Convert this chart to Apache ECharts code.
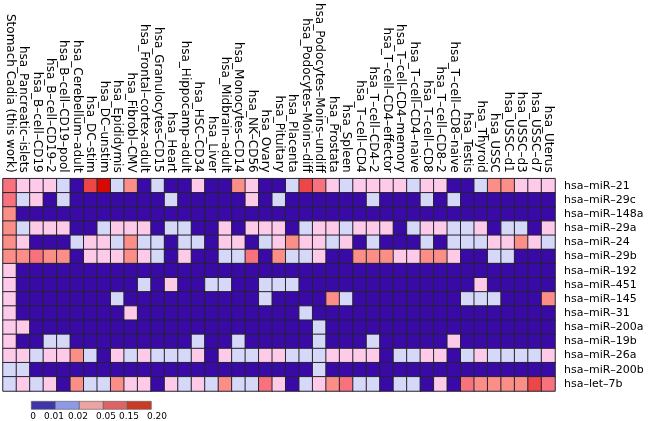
<!DOCTYPE html>
<html>
<head>
<meta charset="utf-8">
<script src="https://cdn.jsdelivr.net/npm/echarts@6/dist/echarts.min.js"></script>
<style>html,body{margin:0;padding:0;background:#fff}#c{width:661px;height:421px}</style>
</head>
<body>
<div id="c"></div>
<script>
const tissues = ['Stomach Cadia (this work)','hsa_Pancreatic\u2013islets','hsa_B\u2013cell\u2013CD19','hsa_B\u2013cell\u2013CD19\u20132','hsa_B\u2013cell\u2013CD19\u2013pool','hsa_Cerebellum\u2013adult','hsa_DC\u2013stim','hsa_DC\u2013unstim','hsa_Epididymis','hsa_Fibrobl\u2013CMV','hsa_Frontal\u2013cortex\u2013adult','hsa_Granulocytes\u2013CD15','hsa_Heart','hsa_Hippocamp\u2013adult','hsa_HSC\u2013CD34','hsa_Liver','hsa_Midbrain\u2013adult','hsa_Monocytes\u2013CD14','hsa_NK\u2013CD56','hsa_Ovary','hsa_Pituitary','hsa_Placenta','hsa_Podocytes\u2013Moins\u2013diff','hsa_Podocytes\u2013Moins\u2013undiff','hsa_Prostata','hsa_Spleen','hsa_T\u2013cell\u2013CD4','hsa_T\u2013cell\u2013CD4\u20132','hsa_T\u2013cell\u2013CD4\u2013effector','hsa_T\u2013cell\u2013CD4\u2013memory','hsa_T\u2013cell\u2013CD4\u2013naive','hsa_T\u2013cell\u2013CD8','hsa_T\u2013cell\u2013CD8\u20132','hsa_T\u2013cell\u2013CD8\u2013naive','hsa_Testis','hsa_Thyroid','hsa_USSC','hsa_USSC\u2013d1','hsa_USSC\u2013d3','hsa_USSC\u2013d7','hsa_Uterus'];
const mirnas = ['hsa\u2013miR\u201321','hsa\u2013miR\u201329c','hsa\u2013miR\u2013148a','hsa\u2013miR\u201329a','hsa\u2013miR\u201324','hsa\u2013miR\u201329b','hsa\u2013miR\u2013192','hsa\u2013miR\u2013451','hsa\u2013miR\u2013145','hsa\u2013miR\u201331','hsa\u2013miR\u2013200a','hsa\u2013miR\u201319b','hsa\u2013miR\u201326a','hsa\u2013miR\u2013200b','hsa\u2013let\u20137b'];

const miR21  = [0.1,0.03,0.03,0.03,0.015,0.005,0.15,0.2,0.015,0.07, 0.005,0.015,0.005,0.005,0.03,0.005,0.005,0.07,0.03,0.005, 0.005,0.015,0.15,0.12,0.03,0.015,0.03,0.03,0.03,0.03, 0.015,0.03,0.03,0.005,0.005,0.015,0.07,0.08,0.03,0.03,0.03];
const miR29c = [0.1,0.015,0.03,0.005,0.015,0.005,0.005,0.005,0.005,0.005, 0.005,0.005,0.015,0.005,0.005,0.005,0.005,0.005,0.03,0.005, 0.015,0.005,0.005,0.005,0.005,0.005,0.005,0.015,0.005,0.005, 0.005,0.015,0.005,0.015,0.005,0.005,0.005,0.005,0.005,0.005,0.005];
const miR148a= [0.07,0.005,0.005,0.005,0.005,0.005,0.005,0.005,0.005,0.005, 0.005,0.005,0.005,0.005,0.005,0.005,0.005,0.005,0.005,0.005, 0.005,0.005,0.005,0.005,0.005,0.005,0.005,0.005,0.005,0.005, 0.005,0.005,0.005,0.005,0.005,0.005,0.005,0.005,0.005,0.005,0.005];
const miR29a = [0.07,0.015,0.03,0.03,0.03,0.005,0.005,0.015,0.03,0.03, 0.03,0.005,0.015,0.015,0.005,0.005,0.03,0.005,0.03,0.03, 0.03,0.005,0.015,0.03,0.03,0.015,0.03,0.03,0.03,0.005, 0.015,0.03,0.03,0.015,0.015,0.03,0.005,0.015,0.015,0.005,0.03];
const miR24  = [0.07,0.03,0.005,0.005,0.005,0.015,0.03,0.03,0.015,0.07, 0.015,0.015,0.005,0.015,0.015,0.005,0.03,0.03,0.005,0.015, 0.03,0.07,0.03,0.03,0.015,0.03,0.005,0.015,0.005,0.005, 0.005,0.015,0.005,0.015,0.015,0.015,0.03,0.03,0.07,0.03,0.015];
const miR29b = [0.07,0.07,0.1,0.07,0.07,0.005,0.03,0.03,0.03,0.07, 0.03,0.015,0.005,0.03,0.005,0.005,0.015,0.015,0.1,0.005, 0.07,0.015,0.015,0.03,0.005,0.005,0.07,0.07,0.07,0.03, 0.03,0.07,0.07,0.03,0.005,0.005,0.015,0.015,0.005,0.005,0.005];
const miR192 = [0.03,0.005,0.005,0.005,0.005,0.005,0.005,0.005,0.005,0.005, 0.005,0.005,0.005,0.005,0.005,0.005,0.005,0.005,0.005,0.005, 0.005,0.005,0.005,0.005,0.005,0.005,0.005,0.005,0.005,0.005, 0.005,0.005,0.005,0.005,0.005,0.005,0.005,0.005,0.005,0.005,0.005];
const miR451 = [0.03,0.005,0.005,0.005,0.005,0.005,0.005,0.005,0.005,0.005, 0.015,0.005,0.03,0.005,0.005,0.015,0.015,0.005,0.005,0.015, 0.015,0.015,0.005,0.005,0.005,0.005,0.005,0.005,0.005,0.005, 0.005,0.005,0.005,0.005,0.005,0.03,0.005,0.005,0.005,0.005,0.005];
const miR145 = [0.03,0.005,0.005,0.005,0.005,0.005,0.005,0.005,0.015,0.005, 0.005,0.005,0.005,0.005,0.005,0.005,0.005,0.005,0.005,0.015, 0.005,0.005,0.005,0.005,0.07,0.015,0.005,0.005,0.005,0.005, 0.005,0.005,0.005,0.005,0.015,0.015,0.015,0.005,0.005,0.005,0.07];
const miR31  = [0.03,0.005,0.005,0.005,0.005,0.005,0.005,0.005,0.005,0.03, 0.005,0.005,0.005,0.005,0.005,0.005,0.005,0.005,0.005,0.005, 0.005,0.005,0.015,0.005,0.005,0.005,0.005,0.005,0.005,0.005, 0.005,0.005,0.005,0.005,0.005,0.005,0.005,0.005,0.005,0.005,0.005];
const miR200a= [0.03,0.03,0.005,0.005,0.005,0.005,0.005,0.005,0.005,0.005, 0.005,0.005,0.005,0.005,0.005,0.005,0.005,0.005,0.005,0.005, 0.005,0.005,0.005,0.015,0.005,0.005,0.005,0.005,0.005,0.005, 0.005,0.005,0.005,0.005,0.005,0.005,0.005,0.005,0.005,0.005,0.005];
const miR19b = [0.03,0.005,0.005,0.015,0.015,0.005,0.005,0.005,0.005,0.005, 0.005,0.005,0.005,0.005,0.015,0.005,0.005,0.015,0.005,0.005, 0.005,0.005,0.005,0.015,0.005,0.005,0.005,0.015,0.005,0.005, 0.005,0.005,0.005,0.03,0.005,0.005,0.005,0.005,0.005,0.005,0.005];
const miR26a = [0.03,0.03,0.015,0.03,0.03,0.07,0.015,0.005,0.03,0.015, 0.03,0.015,0.015,0.015,0.03,0.005,0.03,0.015,0.015,0.03, 0.03,0.015,0.015,0.015,0.03,0.03,0.03,0.03,0.005,0.015, 0.015,0.03,0.03,0.005,0.015,0.03,0.015,0.015,0.015,0.015,0.03];
const miR200b= [0.015,0.015,0.005,0.005,0.005,0.005,0.005,0.005,0.005,0.005, 0.005,0.005,0.005,0.005,0.005,0.005,0.005,0.005,0.005,0.005, 0.005,0.005,0.005,0.015,0.005,0.005,0.005,0.005,0.005,0.005, 0.005,0.005,0.005,0.005,0.005,0.005,0.005,0.005,0.005,0.005,0.005];
const let7b  = [0.015,0.03,0.015,0.03,0.005,0.07,0.015,0.015,0.07,0.03, 0.03,0.005,0.03,0.015,0.03,0.015,0.07,0.015,0.015,0.1, 0.03,0.005,0.015,0.03,0.07,0.1,0.015,0.015,0.005,0.015, 0.015,0.005,0.03,0.005,0.1,0.07,0.07,0.07,0.07,0.15,0.1];

const rows = [miR21, miR29c, miR148a, miR29a, miR24, miR29b, miR192, miR451, miR145, miR31, miR200a, miR19b, miR26a, miR200b, let7b];

const legendTicks = ['0','0.01','0.02','0.05','0.15','0.20'];

const cellColors = ['#3a0aa6','#d6d8f8','#fdcbe8','#fb8f88','#f8727e','#ec4646','#d60a00'];
const legendColors = ['#3f36a8','#8f9ae6','#eba3a3','#dc6464','#c93b25'];

const data = [];
rows.forEach((r, yi) => r.forEach((v, xi) => data.push([xi, yi, v])));

const chart = echarts.init(document.getElementById('c'), null, {renderer: 'canvas'});
const font = 'DejaVu Sans';
const legX = 31, legY = 401, legW = 24, legH = 8;
const legLabelX = [33, 54, 78, 106, 129, 157];
const graphic = [];
legendColors.forEach((c, i) => graphic.push({type: 'rect', left: legX + i * legW, top: legY, shape: {width: legW, height: legH}, style: {fill: c, stroke: '#555', lineWidth: 0.6}}));
legendTicks.forEach((t, i) => graphic.push({type: 'text', x: legLabelX[i], y: 416.5, style: {text: t, fill: '#000', font: '9px "' + font + '"', textAlign: 'center', textVerticalAlign: 'middle'}}));

chart.setOption({
  animation: false,
  textStyle: {fontFamily: font},
  grid: {left: 3, right: 106, top: 176, bottom: 30},
  xAxis: {type: 'category', position: 'top', data: tissues,
    axisLine: {show: false}, axisTick: {show: false}, splitLine: {show: false},
    axisLabel: {rotate: 90, interval: 0, margin: 6, fontSize: 12, color: '#000', fontFamily: font}},
  yAxis: {type: 'category', position: 'right', inverse: true, data: mirnas,
    axisLine: {show: false}, axisTick: {show: false}, splitLine: {show: false},
    axisLabel: {interval: 0, margin: 9, fontSize: 11, color: '#000', fontFamily: font}},
  visualMap: {type: 'piecewise', show: false, dimension: 2,
    pieces: [
      {lt: 0.01, color: cellColors[0]},
      {gte: 0.01, lt: 0.02, color: cellColors[1]},
      {gte: 0.02, lt: 0.05, color: cellColors[2]},
      {gte: 0.05, lt: 0.09, color: cellColors[3]},
      {gte: 0.09, lt: 0.13, color: cellColors[4]},
      {gte: 0.13, lt: 0.18, color: cellColors[5]},
      {gte: 0.18, color: cellColors[6]}
    ]},
  series: [{type: 'heatmap', data: data,
    itemStyle: {borderColor: '#262233', borderWidth: 1},
    emphasis: {disabled: true}}],
  graphic: graphic
});
</script>
</body>
</html>
